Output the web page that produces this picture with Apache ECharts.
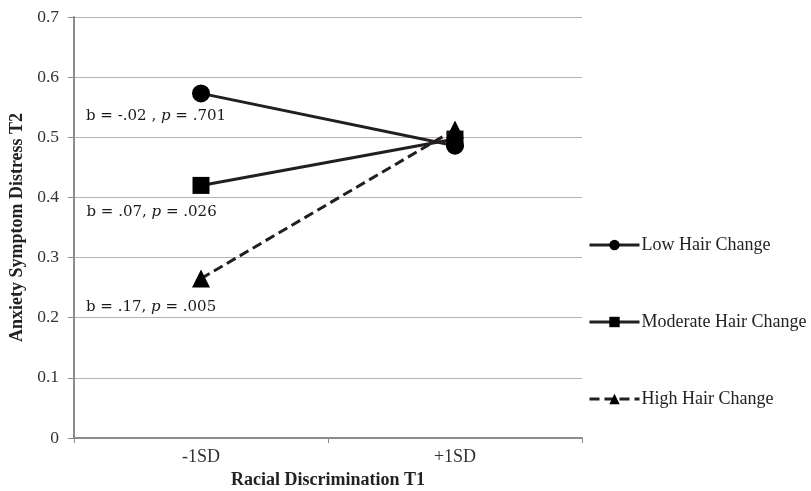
<!DOCTYPE html>
<html>
<head>
<meta charset="utf-8">
<script src="https://cdn.jsdelivr.net/npm/echarts@6/dist/echarts.min.js"></script>
<style>html,body{margin:0;padding:0;background:#fff;}#c{width:811px;height:491px;}</style>
</head>
<body>
<div id="c"></div>
<script>
const categories = ['-1SD', '+1SD'];
const lowHair = [0.573, 0.486];
const moderateHair = [0.420, 0.497];
const highHair = [0.265, 0.513];
const seriesNames = ['Low Hair Change', 'Moderate Hair Change', 'High Hair Change'];
const annotations = [['-.02 ', '.701'], ['.07', '.026'], ['.17', '.005']];
const yTicks = [0, 0.1, 0.2, 0.3, 0.4, 0.5, 0.6, 0.7];

const chart = echarts.init(document.getElementById('c'), null, {renderer: 'canvas'});
const serif = 'Liberation Serif';
const annFont = 'DejaVu Serif';

function annLabel(i, py) {
  return {
    show: true,
    position: [-106, py],
    align: 'left',
    verticalAlign: 'middle',
    formatter: '{a|b = ' + annotations[i][0] + ', }{i|p}{a| = ' + annotations[i][1] + '}',
    rich: {
      a: {fontFamily: annFont, fontSize: 15, color: '#1a1a1a'},
      i: {fontFamily: annFont, fontSize: 15, fontStyle: 'italic', color: '#1a1a1a'}
    }
  };
}

function mkSeries(name, vals, symbol, size, dashed, idx, py) {
  return {
    name: name,
    type: 'line',
    data: vals.map((v, j) => j === 0 ? {value: v, label: annLabel(idx, py)} : v),
    symbol: symbol,
    symbolSize: size,
    showAllSymbol: true,
    lineStyle: {color: '#231f20', width: 3, type: dashed ? [10, 5] : 'solid'},
    itemStyle: {color: '#000', borderWidth: 0},
    emphasis: {disabled: true},
    z: 3 + idx
  };
}

const option = {
  animation: false,
  backgroundColor: '#fff',
  grid: {left: 74, right: 229, top: 17, bottom: 53, containLabel: false, outerBoundsMode: 'none'},
  xAxis: {
    type: 'category',
    data: categories,
    boundaryGap: true,
    name: 'Racial Discrimination T1',
    nameLocation: 'middle',
    nameGap: 33,
    nameTextStyle: {fontFamily: serif, fontSize: 18, fontWeight: 'bold', color: '#222'},
    axisLine: {show: true, lineStyle: {color: '#8c8c8c', width: 2}},
    axisTick: {show: true, length: 5, lineStyle: {color: '#8c8c8c', width: 1}},
    axisLabel: {fontFamily: serif, fontSize: 18, color: '#333', margin: 10},
    splitLine: {show: false}
  },
  yAxis: {
    type: 'value',
    min: 0,
    max: 0.7,
    interval: 0.1,
    name: 'Anxiety Symptom Distress T2',
    nameLocation: 'middle',
    nameGap: 42,
    nameRotate: 90,
    nameTextStyle: {fontFamily: serif, fontSize: 18, fontWeight: 'bold', color: '#222'},
    axisLine: {show: true, lineStyle: {color: '#8c8c8c', width: 2}},
    axisTick: {show: true, length: 6, lineStyle: {color: '#8c8c8c', width: 1}},
    axisLabel: {
      fontFamily: serif, fontSize: 17.5, color: '#333', margin: 15,
      formatter: v => {
        const t = yTicks.find(x => Math.abs(x - v) < 1e-9);
        return t === 0 ? '0' : (t !== undefined ? t.toFixed(1) : '');
      }
    },
    splitLine: {show: true, lineStyle: {color: '#b3b3b3', width: 1}}
  },
  legend: {
    orient: 'vertical',
    left: 588,
    top: 236,
    padding: 0,
    itemWidth: 50,
    itemHeight: 13,
    itemGap: 59,
    data: seriesNames,
    lineStyle: {width: 3},
    textStyle: {fontFamily: serif, fontSize: 18, color: '#222', padding: [0, 0, 0, -3]},
    selectedMode: false
  },
  series: [
    mkSeries(seriesNames[0], lowHair, 'circle', 18, false, 0, 32),
    mkSeries(seriesNames[1], moderateHair, 'rect', 17, false, 1, 35),
    mkSeries(seriesNames[2], highHair, 'triangle', 18, true, 2, 37)
  ]
};
chart.setOption(option);
</script>
</body>
</html>
